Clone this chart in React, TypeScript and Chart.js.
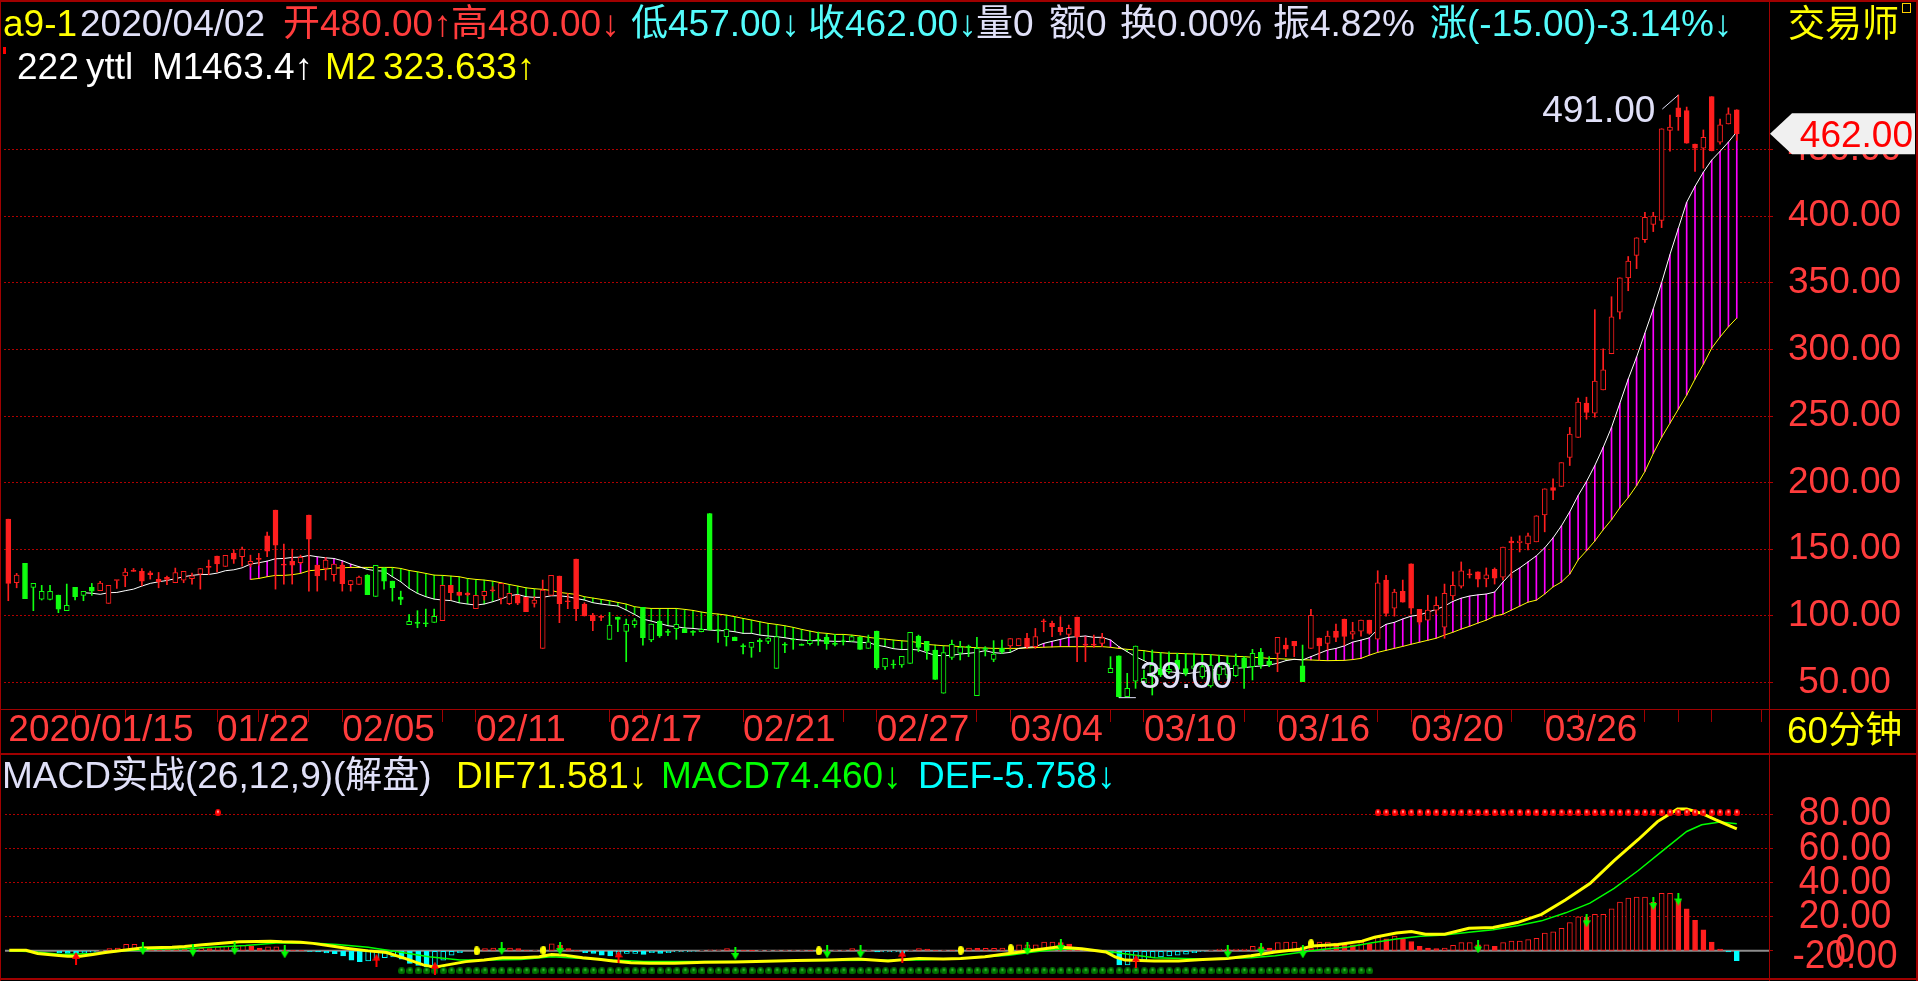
import React, { useEffect, useRef } from 'react';
import { Chart, registerables } from 'chart.js';
Chart.register(...registerables);

const FONT = "'Liberation Sans', Arial, 'Noto Sans CJK SC', sans-serif";
const RED = '#ff1e1e';
const GREEN = '#10ff10';
const MAGENTA = '#ff00ff';
const FILL_GREEN = '#00e000';
const AXIS_RED = '#ff3c3c';
const GRID_RED = '#b00000';
const FRAME = '#a00000';
const LAV = '#e0e0f8';
const YEL = '#ffff00';
const CYAN_T = '#54fcfc';

// ---------------- candle data (60-minute bars) ----------------
const openP = [
  172.6,124.9,139.4,121.4,112.6,112.4,115.6,103.9,121.4,115.4,
  121.4,118.9,109.4,126.6,130.1,133.4,133.4,132.4,127.4,128.9,
  124.9,126.9,127.9,131.4,136.4,144.9,137.1,147.1,144.4,138.9,
  142.4,160.1,179.4,138.1,140.9,139.9,175.6,138.1,135.6,130.9,
  138.1,123.4,123.6,130.6,114.6,136.1,126.1,114.1,93.4,94.4,
  94.1,95.1,96.4,122.9,117.9,117.2,105.4,115.1,118.9,113.1,
  109.1,115.6,113.9,109.4,75.6,115.4,129.9,110.6,142.6,108.9,
  100.6,98.9,82.4,99.1,88.4,93.4,106.4,81.9,96.1,87.6,
  90.4,90.4,87.6,88.1,176.9,89.0,84.4,84.1,76.9,76.4,
  81.9,80.9,60.6,78.1,81.9,77.9,79.1,81.9,83.9,78.6,
  80.6,81.0,84.1,75.6,88.6,61.6,63.1,63.1,64.4,84.6,
  80.9,74.4,41.9,68.9,72.1,76.4,40.1,74.9,67.4,75.6,
  77.4,77.6,83.1,76.9,95.6,94.4,91.4,86.1,99.1,78.1,
  78.1,79.4,57.4,70.1,39.4,50.9,49.9,54.4,59.9,58.1,
  66.9,60.4,60.6,54.4,47.4,55.6,55.6,55.1,68.6,61.9,
  72.6,66.1,71.9,78.1,80.9,62.6,75.6,83.4,79.4,88.6,
  97.6,86.2,88.6,96.8,82.6,126.9,105.8,118.5,139.0,104.9,
  96.8,104.3,91.6,114.9,122.4,130.8,133.0,127.8,135.0,129.0,
  156.2,155.0,154.1,155.6,175.8,196.3,197.2,218.9,234.0,259.7,
  252.1,269.6,296.8,328.1,353.8,370.7,382.4,393.9,396.9,464.5,
  481.4,479.3,454.2,451.2,489.8,455.7,469.3,480.0,
];
const highP = [
  172.6,131.9,139.4,124.4,122.9,122.9,115.6,123.9,121.4,118.4,
  124.4,125.9,122.9,126.6,135.6,135.6,135.6,133.6,132.6,129.9,
  135.9,133.4,132.1,135.6,141.9,144.9,145.4,149.6,151.6,145.6,
  146.9,162.9,179.4,153.9,150.1,145.6,175.6,138.1,143.9,138.9,
  139.9,126.6,129.9,131.0,137.9,136.1,126.1,118.6,101.0,103.9,
  105.1,105.1,122.9,122.9,117.9,117.5,115.4,118.4,121.9,124.4,
  116.9,115.6,113.9,114.4,126.9,130.4,129.9,116.9,142.6,109.9,
  101.9,100.6,102.6,99.1,97.6,98.0,106.4,93.9,96.1,90.0,
  93.6,90.4,88.9,90.0,176.9,89.9,90.0,84.1,79.0,80.1,
  83.0,84.0,84.4,80.0,82.5,79.0,82.0,87.9,86.1,86.1,
  82.0,84.4,84.1,85.6,88.6,68.1,66.9,69.6,87.6,85.6,
  80.9,74.4,72.4,81.9,80.9,78.1,83.9,76.9,81.4,81.9,
  82.9,82.9,86.9,90.6,97.6,96.1,99.4,93.1,99.1,84.4,
  85.6,86.9,69.4,70.1,56.9,77.4,59.4,74.4,72.4,73.1,
  71.9,71.9,71.9,70.6,71.0,70.6,69.4,71.4,69.4,74.9,
  75.6,69.4,83.9,83.4,80.9,78.1,104.9,83.4,88.6,93.9,
  97.6,95.2,96.8,96.8,133.9,130.5,120.0,126.9,139.0,104.9,
  115.5,114.3,123.9,133.0,140.5,135.0,133.0,136.0,136.0,151.7,
  159.2,160.1,162.2,175.2,195.4,202.9,215.0,241.5,263.6,264.2,
  329.9,300.4,339.6,353.8,369.8,383.9,403.0,403.0,465.7,475.9,
  491.0,482.0,454.2,464.8,489.8,472.9,481.4,480.0,
];
const lowP = [
  111.4,121.1,112.9,103.9,111.9,111.9,102.4,103.9,111.9,111.4,
  115.4,118.9,109.4,120.6,121.9,133.4,122.6,127.6,121.1,123.4,
  124.9,124.9,123.9,120.1,130.9,133.1,137.1,139.4,137.4,136.9,
  138.0,144.4,120.1,123.9,123.9,138.9,118.6,118.6,126.9,126.1,
  118.6,118.6,123.6,115.9,114.6,120.1,111.1,108.4,93.4,91.1,
  91.9,95.1,96.4,111.9,115.0,115.0,105.4,111.9,118.0,108.9,
  108.4,108.4,103.1,106.6,75.6,115.4,94.9,105.4,96.4,99.9,
  88.9,96.4,82.4,88.1,65.6,91.4,78.1,80.6,83.9,85.1,
  82.4,87.4,85.4,88.0,89.4,80.0,77.4,81.4,71.4,68.9,
  73.1,79.1,60.6,72.4,74.9,77.9,78.1,77.9,74.9,77.4,
  78.1,81.0,74.9,75.6,59.9,59.9,60.6,61.4,64.4,73.1,
  67.4,52.4,41.9,67.4,66.9,69.4,40.1,69.9,65.6,71.9,
  75.6,77.6,75.6,75.6,88.1,84.4,85.6,84.4,65.6,65.6,
  76.4,76.9,57.4,39.0,39.4,45.6,49.9,40.6,54.4,56.9,
  54.4,55.0,56.9,53.1,46.4,51.9,53.1,54.4,45.6,51.9,
  60.6,61.9,58.1,69.4,69.4,50.6,75.6,66.9,74.4,80.6,
  78.0,82.6,84.7,86.2,82.6,99.8,99.8,110.3,101.3,93.7,
  96.8,101.3,83.2,111.8,120.9,128.4,121.8,121.8,123.9,126.9,
  128.4,148.0,149.5,155.6,163.1,187.3,197.2,212.9,234.0,247.6,
  249.1,269.6,296.8,323.0,344.1,360.7,380.3,388.5,391.5,448.8,
  464.5,454.8,433.7,436.1,449.1,454.2,469.3,457.0,
];
const closeP = [
  124.4,130.6,112.9,124.4,118.4,118.4,105.1,107.9,114.4,118.4,
  118.6,124.6,122.9,126.6,132.9,133.4,126.1,130.9,125.6,127.4,
  132.6,133.4,130.1,135.6,136.4,139.1,145.4,142.6,150.1,140.9,
  142.4,148.6,153.1,138.1,138.1,143.9,157.6,130.1,141.9,138.9,
  124.1,126.6,129.1,115.9,137.9,126.1,121.1,112.4,95.9,94.4,
  94.1,99.6,122.9,117.4,115.4,115.9,115.4,118.4,118.9,124.4,
  116.9,109.6,103.1,111.9,119.4,130.4,109.1,110.6,105.4,99.9,
  96.4,98.9,93.1,97.4,93.6,96.4,83.6,93.9,85.1,87.6,
  93.6,87.4,87.6,89.9,89.4,89.0,89.9,81.4,76.9,80.1,
  80.6,83.4,84.4,78.1,81.9,77.9,81.6,81.9,79.1,78.6,
  80.6,84.4,74.9,80.6,61.1,68.1,63.1,69.6,87.6,76.4,
  73.9,52.4,72.4,78.6,76.6,76.4,75.6,74.9,71.4,73.1,
  82.9,82.9,76.9,84.4,95.6,91.9,88.1,90.6,84.4,78.1,
  78.1,83.6,60.6,39.4,45.6,77.4,53.1,63.1,55.6,59.9,
  59.9,56.9,62.6,61.9,63.1,61.9,64.4,63.1,61.1,71.9,
  63.1,63.1,83.9,75.1,77.4,50.6,100.4,77.4,84.9,83.9,
  84.6,88.3,96.8,86.8,124.8,101.9,117.9,110.3,105.8,95.2,
  104.3,107.9,117.0,123.0,133.9,130.8,127.5,130.8,128.4,151.7,
  154.7,156.2,160.1,175.2,195.4,194.2,215.0,236.4,260.6,252.7,
  276.2,284.7,324.5,353.8,366.4,383.9,399.3,400.2,465.7,466.9,
  474.7,454.8,451.2,459.3,449.1,468.7,477.0,462.0,
];
// colour state of each bar: [colour, run length]
const colorRuns: [string, number][] = [
  ['r', 2], ['g', 9], ['r', 32], ['g', 9], ['r', 20], ['g', 48], ['r', 12],
  ['g', 20], ['r', 3], ['g', 1], ['r', 52],
];
const m1 = [
  null,null,null,null,null,null,null,null,null,117.4,
  117.0,116.2,117.4,117.6,118.9,120.1,122.4,124.4,125.6,126.6,
  127.9,129.4,130.4,131.1,131.1,132.1,133.9,134.6,136.1,138.9,
  139.9,141.1,142.9,143.1,143.9,144.1,145.4,144.4,143.6,143.1,
  141.4,138.9,136.9,134.9,133.9,133.6,129.4,125.6,120.6,116.9,
  114.4,112.6,111.9,111.5,109.8,108.9,108.1,108.9,110.6,112.6,
  115.1,116.1,114.4,113.9,113.9,115.1,115.1,114.4,113.1,111.9,
  109.9,108.9,108.1,107.4,104.4,101.1,97.6,96.1,94.4,92.6,
  91.9,90.9,90.6,89.9,89.4,88.9,88.9,88.1,86.9,86.9,
  85.6,84.9,84.4,83.6,82.6,81.9,81.4,81.4,81.1,80.9,
  80.9,80.6,80.1,79.9,78.1,76.9,75.4,74.7,74.9,74.4,
  72.4,70.4,70.1,70.4,71.4,71.9,72.6,73.9,72.4,71.9,
  72.6,75.6,76.4,76.9,79.4,80.9,82.4,83.9,84.4,84.9,
  83.9,83.9,81.9,76.9,73.1,69.4,66.4,63.1,59.9,58.1,
  57.4,56.4,57.4,58.1,59.4,59.9,60.4,60.6,61.1,61.9,
  62.4,63.1,64.4,66.4,67.4,66.9,69.4,71.9,74.4,75.6,
  77.5,80.3,81.8,83.5,89.8,93.7,95.2,97.7,99.8,100.7,
  102.8,104.9,107.3,110.9,113.3,114.9,115.8,116.4,117.9,125.4,
  132.1,136.0,140.5,145.1,151.1,158.6,167.6,178.2,190.3,200.8,
  212.9,226.5,241.5,259.7,277.8,294.3,312.4,330.5,350.2,371.3,
  390.9,410.5,422.5,433.1,442.2,448.8,455.7,463.4,
];
const m2 = [
  null,null,null,null,null,null,null,null,null,null,
  null,null,null,null,null,null,null,null,null,null,
  null,null,null,null,null,null,null,null,null,127.4,
  128.1,129.4,130.4,130.4,130.9,131.9,133.9,134.4,135.1,135.9,
  136.1,136.4,136.4,136.4,136.4,136.4,136.4,135.6,134.1,133.1,
  131.9,130.6,130.4,129.9,129.4,128.1,127.4,126.9,126.1,124.9,
  123.6,122.4,121.1,120.4,119.9,119.1,117.6,116.9,116.1,114.4,
  113.4,112.4,111.4,110.1,108.9,106.9,106.1,105.6,105.6,105.6,
  105.6,104.9,104.1,102.9,101.9,101.4,100.6,99.4,98.1,96.9,
  95.6,94.4,93.6,92.6,91.4,89.9,88.6,87.4,86.9,86.1,
  86.1,85.6,84.9,83.9,83.1,82.6,81.9,81.3,80.9,79.9,
  78.6,78.1,77.6,77.4,76.9,76.4,76.1,75.9,75.6,75.6,
  75.6,75.6,75.9,76.2,76.5,76.7,76.9,76.9,76.9,76.9,
  76.9,76.9,76.4,75.6,74.9,74.4,73.9,72.9,72.4,71.9,
  71.9,71.6,71.4,71.1,70.9,70.4,69.9,69.6,69.4,68.9,
  68.6,68.1,67.9,67.6,67.4,67.1,66.9,66.6,66.4,66.5,
  66.6,67.2,68.1,70.5,72.6,74.1,75.6,77.1,78.7,80.2,
  81.7,83.2,85.6,87.7,90.1,92.2,94.6,96.8,99.8,101.3,
  104.3,107.3,110.3,111.8,116.4,121.8,125.4,131.4,142.0,148.9,
  156.2,164.6,172.2,181.2,188.8,197.8,208.4,221.9,234.0,244.6,
  255.1,265.7,277.8,288.9,301.0,309.4,317.0,323.6,
];
const priceTicks = [50, 100, 150, 200, 250, 300, 350, 400, 450];
const dayTickIdx = [0, 8, 14, 25, 30, 32, 36, 40, 52, 56, 72, 76, 88, 96, 100, 104, 116, 120, 132, 136, 148, 152, 164, 168, 172, 180, 184, 188, 196, 200, 204, 210];
const dateLabelIdx = [0, 25, 40, 56, 72, 88, 104, 120, 136, 152, 168, 184];
const dateLabelText = ['2020/01/15', '01/22', '02/05', '02/11', '02/17', '02/21', '02/27', '03/04', '03/10', '03/16', '03/20', '03/26'];

// ---------------- MACD data ----------------
const histVals = [
  null,null,null,null,null,null,-1.0,-1.5,-1.8,-1.2,
  -0.8,0.3,1.3,1.7,3.8,3.8,2.0,1.5,1.5,1.2,
  1.5,1.3,1.0,1.5,1.3,2.3,2.6,2.6,3.2,2.6,
  1.7,2.3,2.3,0.5,0.3,0.2,-0.3,-0.6,-1.2,-1.6,
  -2.9,-5.4,-6.3,-5.9,-4.4,-4.0,-3.5,-4.8,-7.3,-8.6,
  -9.2,-8.6,-5.4,-2.5,-1.0,0.0,0.3,1.3,1.7,1.3,
  1.7,1.3,0.4,0.5,1.0,4.2,3.2,1.3,0.2,-1.0,
  -1.5,-2.5,-2.9,-2.1,-1.5,-1.5,-2.1,-1.0,-1.5,-1.0,
  -0.6,-0.6,-0.2,0.2,0.6,0.6,1.3,0.3,0.2,0.1,
  0.2,0.2,0.5,0.5,0.5,0.5,0.3,0.0,0.5,0.5,
  0.5,1.3,0.5,0.5,-0.6,-0.6,-0.6,-1.5,0.5,1.3,
  1.0,0.2,0.5,0.4,1.5,1.7,1.5,1.5,1.5,1.7,
  0.5,3.6,3.6,3.6,5.1,5.1,4.8,4.0,1.5,0.8,
  0.4,0.3,-1.5,-8.2,-8.2,-6.3,-5.4,-4.0,-3.6,-3.0,
  -2.5,-2.0,-1.0,-0.2,0.5,1.0,1.0,1.0,1.0,2.7,
  2.3,1.7,4.8,5.1,5.1,2.3,1.3,5.1,5.1,4.6,
  3.8,3.6,5.1,4.2,8.0,7.1,8.6,7.1,5.5,2.7,
  1.7,1.3,1.7,3.2,4.8,4.8,3.6,3.6,2.6,4.8,
  5.7,5.7,6.6,7.4,10.5,11.2,13.2,16.6,20.0,19.8,
  21.4,21.4,24.6,28.6,30.9,31.5,31.5,28.5,33.8,33.8,
  29.0,24.6,17.9,12.4,5.2,1.0,-0.6,-5.76,
];
const difIdx = [0,2,3.4,5.6,7,8.5,10,11.5,13.7,15.9,19.5,21,23.2,25.4,27.6,29.8,31.3,32.7,34.9,36.4,38.6,40.8,43,45.2,47.4,49.6,51,52.5,54.7,56.9,59.1,61.3,63.5,65,66.5,68.7,70.9,72.3,74.5,76.7,79.7,83.3,87,90.7,94.3,98,101.7,105.3,109,111.9,114,116.9,119.8,122.7,125.6,128.5,131.4,132.5,133.7,137.2,140.1,143,145.9,148.8,151.7,154.6,156.1,159.2,162.1,163.6,166.2,168,169.7,172,174.9,177.8,180.7,183.6,186.5,189.4,192.3,195.2,197.5,199.9,201,202.8,204.5,207];
const difVal = [0.4,0.4,-1.5,-2.5,-3.1,-3.1,-2.1,-1,0.4,1.7,2.1,2.6,3.6,4.4,5.3,5.5,5.7,5.3,5.1,4.4,2.8,1.3,0,-1,-4.4,-8.2,-9.6,-8.2,-6.3,-5.4,-4,-4,-3.5,-2.1,-2.5,-4,-5,-5.9,-6.9,-7.3,-7.3,-6.7,-6.5,-6.1,-5.7,-5.4,-4.8,-5.9,-4.4,-4.8,-4.4,-3.5,-1.5,0.4,2.3,1.3,-0.6,-3.5,-5.4,-5.9,-5.9,-5,-4.4,-2.9,-0.6,0.9,2.8,3.8,5.7,8,10.5,11.3,9.7,9.7,13.2,13.7,16.6,21.4,30,39.5,52.9,65.3,75.8,83.1,83.1,80.6,76.8,71.58];
const deaIdx = [0,3,6.3,10,13.7,17.3,21,24.7,28.3,32,35.7,39.3,43,46.7,50.3,54,57.7,61.3,65,68.7,72.3,76,80,91,94,98,109,114,119.8,122.7,125.6,128.5,131.4,134.3,137.2,143,148.8,151.7,154.6,157.5,160.4,163.3,166.2,169.1,172,174.9,177.8,180.7,183.6,186.5,189.4,192.3,195.2,198.1,201,202.8,205,207];
const deaVal = [0,-0.5,-2.1,-1.5,0,0.9,1.3,2.3,3.2,4.6,4.8,3.8,2.1,-0.6,-3.5,-5.4,-5.4,-5,-3.5,-4.4,-5.4,-6.3,-6.3,-6.1,-5.7,-5.6,-5.4,-4.4,-2.5,-0.6,0.9,0.9,-0.2,-2.1,-4,-4.8,-4,-2.9,-1,0.9,2.3,4.8,7,8.6,9.3,10.9,12.4,14.7,17.6,22.3,28,36.6,47.1,58.6,70,73.9,75.6,74.46];
const macdGridTicks = [80, 60, 40, 20, 0];
const macdTickValues = [80, 60, 40, 20, 0, -20];
const macdTickLabels = ['80.00', '60.00', '40.00', '20.00', '0', '-20.00'];
const redDotIdx = [25, 164, 165, 166, 167, 168, 169, 170, 171, 172, 173, 174, 175, 176, 177, 178, 179, 180, 181, 182, 183, 184, 185, 186, 187, 188, 189, 190, 191, 192, 193, 194, 195, 196, 197, 198, 199, 200, 201, 202, 203, 204, 205, 206, 207];
const redDotLevel = 81;
const greenDotFirst = 47;
const greenDotLast = 163;
const greenDotLevel = -11.7;
const yellowMarkIdx = [56, 64, 97, 114, 120, 156];
const yellowMarkVal = [0, 0.4, 0, 0.4, 1.3, 4.2];
const downArrowIdx = [16, 22, 27, 33, 59, 66, 87, 98, 102, 122, 126, 146, 150, 155, 176, 189, 197, 200];
const downArrowVal = [1.3, 0.4, 1.3, -0.6, 1.3, 1.3, -1.5, -0.6, -0.6, 1.3, 3.2, -0.6, 1.0, -0.6, 2.3, 17.6, 27.7, 30.4];
const upArrowIdx = [8, 44, 51, 73, 107, 135];
const upArrowVal = [-4.4, -5.4, -10.1, -3.5, -3.1, -6.0];

// ---------------- derived helpers ----------------
const N = closeP.length;
const candleColor: string[] = [];
colorRuns.forEach(([c, n]) => { for (let k = 0; k < n; k++) candleColor.push(c); });
const idx = Array.from({ length: N }, (_, i) => i);
const colOf = (i: number) => (candleColor[i] === 'r' ? RED : GREEN);
const dateLabelMap: Record<number, string> = {};
dateLabelIdx.forEach((v, k) => { dateLabelMap[v] = dateLabelText[k]; });

// layout constants
const X_MIN = -0.515;
const X_MAX = 210.86;
const Y_MIN = 30.1;
const Y_MAX = 496.3;
const MACD_MIN = -14.73;
const MACD_MAX = 113.07;

function ellipseImg(fill: string, w: number, h: number, hi?: string) {
  const c = document.createElement('canvas');
  c.width = w; c.height = h;
  const g = c.getContext('2d')!;
  g.fillStyle = fill;
  g.beginPath(); g.ellipse(w / 2, h / 2, w / 2, h / 2, 0, 0, Math.PI * 2); g.fill();
  if (hi) { g.fillStyle = hi; g.fillRect(w / 2 - 1, h / 2 - 2, 2, 2); }
  return c;
}
function arrowImg(color: string, down: boolean) {
  const c = document.createElement('canvas');
  c.width = 8; c.height = 13;
  const g = c.getContext('2d')!;
  g.fillStyle = color;
  g.beginPath();
  if (down) {
    g.fillRect(3, 0, 2, 8);
    g.moveTo(0, 6); g.lineTo(8, 6); g.lineTo(4, 13);
  } else {
    g.fillRect(3, 5, 2, 8);
    g.moveTo(0, 7); g.lineTo(8, 7); g.lineTo(4, 0);
  }
  g.closePath(); g.fill();
  return c;
}

const annotPlugin = {
  id: 'annot',
  afterDraw(chart: any) {
    const { ctx, chartArea } = chart;
    const x = chart.scales.x, y = chart.scales.y;
    let hi = 0, lo = 0;
    for (let i = 0; i < N; i++) { if (highP[i] > highP[hi]) hi = i; if (lowP[i] < lowP[lo]) lo = i; }
    ctx.save();
    ctx.font = `37px ${FONT}`;
    ctx.strokeStyle = LAV; ctx.fillStyle = LAV; ctx.lineWidth = 1;
    const hx = x.getPixelForValue(hi), hy = y.getPixelForValue(highP[hi]);
    ctx.beginPath(); ctx.moveTo(hx - 16, hy + 14); ctx.lineTo(hx, hy); ctx.stroke();
    ctx.textAlign = 'right'; ctx.textBaseline = 'alphabetic';
    ctx.fillText(highP[hi].toFixed(2), hx - 23, hy + 27);
    const lx = x.getPixelForValue(lo), ly = y.getPixelForValue(lowP[lo]);
    ctx.beginPath(); ctx.moveTo(lx, ly + 0.5); ctx.lineTo(lx + 17, ly + 0.5); ctx.stroke();
    ctx.textAlign = 'left';
    ctx.fillText(lowP[lo].toFixed(2), lx + 21, ly - 9);
    // last price tag
    const last = closeP[N - 1];
    const ty = y.getPixelForValue(last);
    const tx = chartArea.right + 1;
    const rx = chart.width - 3;
    ctx.fillStyle = '#f0f0f0';
    ctx.beginPath();
    ctx.moveTo(tx, ty); ctx.lineTo(tx + 22, ty - 20.5); ctx.lineTo(rx, ty - 20.5);
    ctx.lineTo(rx, ty + 20.5); ctx.lineTo(tx + 22, ty + 20.5); ctx.closePath(); ctx.fill();
    ctx.fillStyle = '#ff0000';
    ctx.textAlign = 'right';
    ctx.fillText(last.toFixed(2), rx - 2, ty + 13);
    ctx.restore();
  },
};

const macdPlugin = {
  id: 'macdExtras',
  beforeDatasetsDraw(chart: any) {
    const { ctx, chartArea } = chart;
    const y0 = chart.scales.y.getPixelForValue(0);
    ctx.save();
    ctx.strokeStyle = '#8c8c8c'; ctx.lineWidth = 2;
    ctx.beginPath(); ctx.moveTo(chartArea.left, y0); ctx.lineTo(chartArea.right, y0); ctx.stroke();
    ctx.restore();
  },
  afterDraw(chart: any) {
    const { ctx, chartArea } = chart;
    const ys = chart.scales.y;
    ctx.save();
    ctx.font = `37px ${FONT}`;
    ctx.fillStyle = AXIS_RED; ctx.textAlign = 'center'; ctx.textBaseline = 'middle';
    macdTickValues.forEach((v, k) => {
      const py = Math.min(ys.getPixelForValue(v), chartArea.bottom - 19);
      ctx.save();
      ctx.translate(chartArea.right + 76, py);
      ctx.scale(1, 1.08);
      ctx.fillText(macdTickLabels[k], 0, 0);
      ctx.restore();
    });
    ctx.restore();
  },
};

function mainConfig(): any {
  const fillIdx = idx.filter((i) => m1[i] != null && m2[i] != null);
  return {
    type: 'bar',
    data: {
      datasets: [
        {
          type: 'bar', data: fillIdx.map((i) => ({ x: i, y: [m2[i], m1[i]] })),
          backgroundColor: (c: any) => { const i = c.raw ? c.raw.x : 0; return (m1[i] as number) >= (m2[i] as number) ? MAGENTA : FILL_GREEN; },
          barThickness: 1, grouped: false, order: 10,
        },
        { type: 'line', data: idx.map((i) => ({ x: i, y: m2[i] })), borderColor: YEL, borderWidth: 1, pointRadius: 0, spanGaps: false, order: 9 },
        { type: 'line', data: idx.map((i) => ({ x: i, y: m1[i] })), borderColor: '#ffffff', borderWidth: 1, pointRadius: 0, spanGaps: false, order: 8 },
        {
          type: 'bar', data: idx.map((i) => ({ x: i, y: [lowP[i], highP[i]] })),
          backgroundColor: (c: any) => colOf(c.dataIndex), barThickness: 1, grouped: false, order: 7,
        },
        {
          type: 'bar', data: idx.map((i) => ({ x: i, y: [Math.min(openP[i], closeP[i]), Math.max(openP[i], closeP[i])] })),
          backgroundColor: (c: any) => (closeP[c.dataIndex] > openP[c.dataIndex] ? '#000000' : colOf(c.dataIndex)),
          borderColor: (c: any) => colOf(c.dataIndex),
          borderWidth: 1, borderSkipped: false, barThickness: 5, minBarLength: 1, grouped: false, order: 6,
        },
      ],
    },
    options: {
      responsive: false, animation: false, devicePixelRatio: 1, events: [],
      layout: { padding: { top: 88, left: 4, right: 0, bottom: 0 } },
      plugins: { legend: { display: false }, tooltip: { enabled: false } },
      scales: {
        x: {
          type: 'linear', position: 'bottom', min: X_MIN, max: X_MAX, offset: false, bounds: 'data',
          afterBuildTicks: (s: any) => { s.ticks = dayTickIdx.map((v) => ({ value: v })); },
          afterFit: (s: any) => { s.height = 44; },
          grid: {
            offset: false, drawOnChartArea: false, drawTicks: true, tickLength: 13, tickWidth: 1,
            tickColor: (c: any) => (c.tick && c.tick.value === 0 ? 'rgba(0,0,0,0)' : FRAME),
          },
          border: { display: false },
          ticks: {
            autoSkip: false, maxRotation: 0, minRotation: 0, align: 'start', padding: 1, color: AXIS_RED,
            font: { family: FONT, size: 37, lineHeight: 0.4 },
            callback: (v: any) => dateLabelMap[Math.round(Number(v))] ?? '',
          },
        },
        y: {
          type: 'linear', position: 'right', min: Y_MIN, max: Y_MAX, beginAtZero: false, bounds: 'data',
          afterBuildTicks: (s: any) => { s.ticks = priceTicks.map((v) => ({ value: v })); },
          afterFit: (s: any) => { s.width = 149; },
          grid: { color: GRID_RED, lineWidth: 1, tickLength: 4, drawTicks: true, tickColor: GRID_RED },
          border: { display: false, dash: [2, 2] },
          ticks: {
            color: AXIS_RED, padding: 15, crossAlign: 'center', font: { family: FONT, size: 37 },
            callback: (v: any) => Number(v).toFixed(2),
          },
        },
      },
    },
    plugins: [annotPlugin],
  };
}

function macdConfig(): any {
  const redDot = ellipseImg('#ff0000', 6, 7, '#ffb0b0');
  const greenDot = ellipseImg('#006e00', 7, 7, '#40d040');
  const yellowMark = ellipseImg(YEL, 6, 9);
  const downArrow = arrowImg('#00ff00', true);
  const upArrow = arrowImg('#ff0000', false);
  const greenDotIdx = idx.filter((i) => i >= greenDotFirst && i <= greenDotLast);
  const histColor = (i: number) => ((histVals[i] as number) >= 0 ? RED : '#00ffff');
  const histHollow = (i: number) => {
    const v = histVals[i] as number; const p = (histVals[i - 1] ?? 0) as number;
    return v >= p;
  };
  return {
    type: 'bar',
    data: {
      datasets: [
        {
          type: 'bar', data: idx.map((i) => ({ x: i, y: histVals[i] })),
          backgroundColor: (c: any) => (histHollow(c.dataIndex) ? '#000000' : histColor(c.dataIndex)),
          borderColor: (c: any) => histColor(c.dataIndex),
          borderWidth: 1, borderSkipped: false, barThickness: 5, grouped: false, order: 10,
        },
        { type: 'line', data: deaIdx.map((x, k) => ({ x, y: deaVal[k] })), borderColor: '#00ff00', borderWidth: 1.5, pointRadius: 0, order: 9 },
        { type: 'line', data: difIdx.map((x, k) => ({ x, y: difVal[k] })), borderColor: YEL, borderWidth: 3, pointRadius: 0, order: 8 },
        { type: 'scatter', data: redDotIdx.map((x) => ({ x, y: redDotLevel })), pointStyle: redDot, order: 5 },
        { type: 'scatter', data: greenDotIdx.map((x) => ({ x, y: greenDotLevel })), pointStyle: greenDot, order: 5 },
        { type: 'scatter', data: yellowMarkIdx.map((x, k) => ({ x, y: yellowMarkVal[k] })), pointStyle: yellowMark, order: 4 },
        { type: 'scatter', data: downArrowIdx.map((x, k) => ({ x, y: downArrowVal[k] })), pointStyle: downArrow, order: 3 },
        { type: 'scatter', data: upArrowIdx.map((x, k) => ({ x, y: upArrowVal[k] })), pointStyle: upArrow, order: 3 },
      ],
    },
    options: {
      responsive: false, animation: false, devicePixelRatio: 1, events: [],
      layout: { padding: { top: 2, left: 4, right: 0, bottom: 3 } },
      plugins: { legend: { display: false }, tooltip: { enabled: false } },
      scales: {
        x: { type: 'linear', display: false, min: X_MIN, max: X_MAX, offset: false, bounds: 'data', grid: { offset: false } },
        y: {
          type: 'linear', position: 'right', min: MACD_MIN, max: MACD_MAX, beginAtZero: false, bounds: 'data',
          afterBuildTicks: (s: any) => { s.ticks = macdGridTicks.map((v) => ({ value: v })); },
          afterFit: (s: any) => { s.width = 149; },
          grid: { color: GRID_RED, lineWidth: 1, tickLength: 4, drawTicks: true, tickColor: GRID_RED },
          border: { display: false, dash: [2, 2] },
          ticks: { display: false },
        },
      },
    },
    plugins: [macdPlugin],
  };
}

const T = ({ x, b, c, s = 37, children }: { x: number; b: number; c: string; s?: number; children: any }) => (
  <div style={{
    position: 'absolute', left: x, top: b - s * 0.8465, fontFamily: FONT, fontSize: s,
    lineHeight: `${s}px`, color: c, whiteSpace: 'pre',
  }}>{children}</div>
);
const Line = ({ l, t, w, h, c = FRAME }: { l: number; t: number; w: number; h: number; c?: string }) => (
  <div style={{ position: 'absolute', left: l, top: t, width: w, height: h, background: c }} />
);

export default function App() {
  const mainRef = useRef<HTMLCanvasElement>(null);
  const macdRef = useRef<HTMLCanvasElement>(null);
  useEffect(() => {
    const c1 = new Chart(mainRef.current as HTMLCanvasElement, mainConfig());
    const c2 = new Chart(macdRef.current as HTMLCanvasElement, macdConfig());
    return () => { c1.destroy(); c2.destroy(); };
  }, []);
  return (
    <div style={{ position: 'fixed', left: 0, top: 0, width: 1918, height: 981, background: '#000', overflow: 'hidden' }}>
      <canvas ref={mainRef} width={1918} height={753} style={{ position: 'absolute', left: 0, top: 0, width: 1918, height: 753 }} />
      <canvas ref={macdRef} width={1918} height={228} style={{ position: 'absolute', left: 0, top: 753, width: 1918, height: 228 }} />
      {/* frame */}
      <Line l={0} t={0} w={1918} h={2} />
      <Line l={0} t={0} w={1} h={981} />
      <Line l={0} t={709} w={1918} h={1} />
      <Line l={0} t={753} w={1918} h={2} />
      <Line l={0} t={978} w={1918} h={2} />
      <Line l={1769} t={0} w={1} h={981} />
      <Line l={1916} t={0} w={2} h={981} />
      <div style={{ position: 'absolute', left: 3, top: 47, width: 3, height: 7, background: '#ff0000' }} />
      <div style={{ position: 'absolute', left: 1902, top: 3, width: 9, height: 10, border: '1px solid #ffd000', boxSizing: 'border-box' }} />
      {/* header line 1 */}
      <T x={3} b={36} c={YEL}>a9-1</T>
      <T x={80} b={36} c={LAV}>2020/04/02</T>
      <T x={283} b={36} c={AXIS_RED}>开480.00↑</T>
      <T x={451} b={36} c={AXIS_RED}>高480.00↓</T>
      <T x={631} b={36} c={CYAN_T}>低457.00↓</T>
      <T x={808} b={36} c={CYAN_T}>收462.00↓</T>
      <T x={976} b={36} c={LAV}>量0</T>
      <T x={1049} b={36} c={LAV}>额0</T>
      <T x={1120} b={36} c={LAV}>换0.00%</T>
      <T x={1273} b={36} c={LAV}>振4.82%</T>
      <T x={1430} b={36} c={CYAN_T}>涨(-15.00)-3.14%↓</T>
      <T x={1788} b={37} c={YEL}>交易师</T>
      {/* header line 2 */}
      <T x={17} b={79.5} c="#ffffff">222</T>
      <T x={86} b={79.5} c="#ffffff">yttl</T>
      <T x={152} b={79.5} c="#ffffff">M1</T>
      <T x={202} b={79.5} c="#ffffff">463.4↑</T>
      <T x={325} b={79.5} c={YEL}>M2</T>
      <T x={383} b={79.5} c={YEL}>323.633↑</T>
      {/* period */}
      <T x={1787} b={743} c={YEL}>60分钟</T>
      {/* MACD header */}
      <T x={2} b={788.5} c={LAV}>MACD实战(26,12,9)(解盘)</T>
      <T x={456} b={788.5} c={YEL}>DIF71.581↓</T>
      <T x={661} b={788.5} c="#00ff00">MACD74.460↓</T>
      <T x={918} b={788.5} c="#00ffff">DEF-5.758↓</T>
    </div>
  );
}
